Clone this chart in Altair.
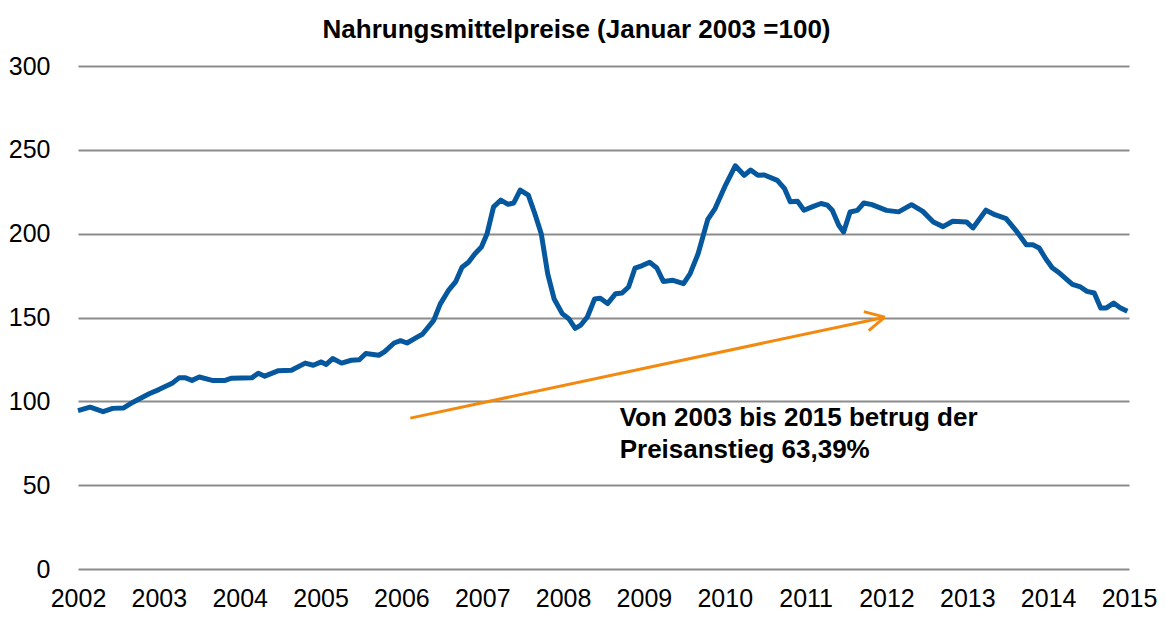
import altair as alt
import pandas as pd

# Decimal year positions and index values
years = [
    2002.00, 2002.15, 2002.31, 2002.43, 2002.56, 2002.68, 2002.88, 2003.00,
    2003.17, 2003.25, 2003.33, 2003.41, 2003.50, 2003.66, 2003.82, 2003.90,
    2004.15, 2004.23, 2004.31, 2004.48, 2004.64, 2004.81, 2004.91, 2005.01,
    2005.07, 2005.15, 2005.26, 2005.38, 2005.48, 2005.56, 2005.72, 2005.79,
    2005.91, 2005.99, 2006.07, 2006.20, 2006.26, 2006.40, 2006.48, 2006.58,
    2006.67, 2006.75, 2006.83, 2006.91, 2006.99, 2007.06, 2007.14, 2007.23,
    2007.32, 2007.39, 2007.47, 2007.57, 2007.65, 2007.73, 2007.81, 2007.89,
    2007.99, 2008.07, 2008.15, 2008.22, 2008.30, 2008.39, 2008.46, 2008.55,
    2008.65, 2008.73, 2008.81, 2008.89, 2008.98, 2009.07, 2009.16, 2009.24,
    2009.36, 2009.49, 2009.57, 2009.67, 2009.79, 2009.88, 2010.00, 2010.13,
    2010.24, 2010.32, 2010.41, 2010.49, 2010.65, 2010.74, 2010.81, 2010.90,
    2010.98, 2011.08, 2011.19, 2011.27, 2011.33, 2011.41, 2011.47, 2011.55,
    2011.64, 2011.72, 2011.82, 2012.00, 2012.15, 2012.31, 2012.45, 2012.58,
    2012.70, 2012.82, 2012.99, 2013.07, 2013.23, 2013.34, 2013.48, 2013.60,
    2013.73, 2013.81, 2013.89, 2013.97, 2014.05, 2014.14, 2014.30, 2014.40,
    2014.48, 2014.57, 2014.65, 2014.72, 2014.81, 2014.89, 2014.98,
]
values = [
    94.5, 96.5, 93.8, 95.8, 96.0, 99.5, 104.5, 107.0,
    111.0, 114.0, 114.0, 112.5, 114.5, 112.5, 112.5, 113.8,
    114.0, 116.8, 115.0, 118.3, 118.5, 122.8, 121.5, 123.5,
    122.0, 125.5, 122.8, 124.5, 124.8, 128.5, 127.5, 129.5,
    134.8, 136.2, 134.8, 138.4, 140.0, 148.3, 158.0, 166.0,
    171.2, 180.0, 183.0, 188.0, 192.0, 200.0, 216.0, 220.0,
    217.5, 218.3, 226.0, 223.0, 212.0, 200.0, 176.0, 161.0,
    152.3, 149.3, 143.5, 145.5, 150.3, 161.0, 161.5, 158.3,
    164.2, 164.6, 168.2, 179.5, 181.0, 183.0, 179.5, 171.5,
    172.2, 170.2, 176.0, 188.0, 208.5, 215.0, 228.0, 240.5,
    234.8, 238.0, 234.8, 235.0, 231.8, 226.8, 219.0, 219.3,
    214.0, 216.0, 218.0, 217.0, 214.0, 205.0, 201.0, 212.9,
    213.9, 218.3, 217.3, 213.9, 213.0, 217.3, 213.3, 207.0,
    204.2, 207.4, 207.0, 203.4, 214.0, 211.3, 209.0, 202.0,
    193.4, 193.4, 191.4, 185.0, 179.7, 176.5, 169.8, 168.2,
    165.6, 164.6, 155.7, 155.7, 158.6, 155.8, 153.7,
]

x_ticks = list(range(2002, 2016))
y_ticks = [0, 50, 100, 150, 200, 250, 300]

# Arrow annotation (start, tip) and open arrow-head arms
arrow_x = [2006.11, 2011.98]
arrow_y = [90.0, 150.2]
head_x = [2011.72, 2011.78]
head_y = [153.5, 142.2]

annot_lines = ["Von 2003 bis 2015 betrug der", "Preisanstieg 63,39%"]
annot_x = [2008.70, 2008.70]
annot_y = [90.0, 71.0]

title = "Nahrungsmittelpreise (Januar 2003 =100)"

df = pd.DataFrame({"year": years, "value": values})
arrow_df = pd.DataFrame({"x": [arrow_x[0]], "y": [arrow_y[0]], "x2": [arrow_x[1]], "y2": [arrow_y[1]]})
head_df = pd.DataFrame({
    "x": head_x, "y": head_y,
    "x2": [arrow_x[1]] * len(head_x), "y2": [arrow_y[1]] * len(head_y),
})
text_df = pd.DataFrame({"x": annot_x, "y": annot_y, "t": annot_lines})

SANS = "Liberation Sans"
ORANGE = "#f28a0f"
BLUE = "#05589d"

xscale = alt.Scale(domain=[2002, 2015], nice=False, zero=False)
yscale = alt.Scale(domain=[0, 300], nice=False)

x_axis = alt.Axis(values=x_ticks, format="d", grid=False, domain=False, ticks=False,
                  labelFont=SANS, labelFontSize=25, labelColor="#000000",
                  labelPadding=17, title=None, labelOverlap=False, labelFlush=False)
y_axis = alt.Axis(values=y_ticks, grid=True, gridColor="#8c8c8c", gridWidth=2,
                  domain=False, ticks=False, labelFont=SANS, labelFontSize=25,
                  labelColor="#000000", labelPadding=28, title=None)

line = alt.Chart(df).mark_line(color=BLUE, strokeWidth=5, strokeJoin="round").encode(
    x=alt.X("year:Q", scale=xscale, axis=x_axis),
    y=alt.Y("value:Q", scale=yscale, axis=y_axis),
)

arrow = alt.Chart(arrow_df).mark_rule(color=ORANGE, strokeWidth=3).encode(
    x=alt.X("x:Q", scale=xscale), y=alt.Y("y:Q", scale=yscale),
    x2="x2:Q", y2="y2:Q",
)
head = alt.Chart(head_df).mark_rule(color=ORANGE, strokeWidth=3).encode(
    x=alt.X("x:Q", scale=xscale), y=alt.Y("y:Q", scale=yscale),
    x2="x2:Q", y2="y2:Q",
)
text = alt.Chart(text_df).mark_text(
    font=SANS, fontSize=26, fontWeight="bold", color="#000000",
    align="left", baseline="middle",
).encode(
    x=alt.X("x:Q", scale=xscale), y=alt.Y("y:Q", scale=yscale), text="t:N",
)

chart = alt.layer(line, arrow, head, text).properties(
    width=1051, height=503,
    title=alt.TitleParams(title, font=SANS, fontSize=26, fontWeight="bold",
                          color="#000000", anchor="middle", frame="bounds",
                          offset=11, dx=-6),
    padding={"left": 0, "top": 9, "right": 0, "bottom": 0},
).configure_view(stroke=None)

chart.save("out.html", embed_options={"renderer": "svg", "actions": False})
